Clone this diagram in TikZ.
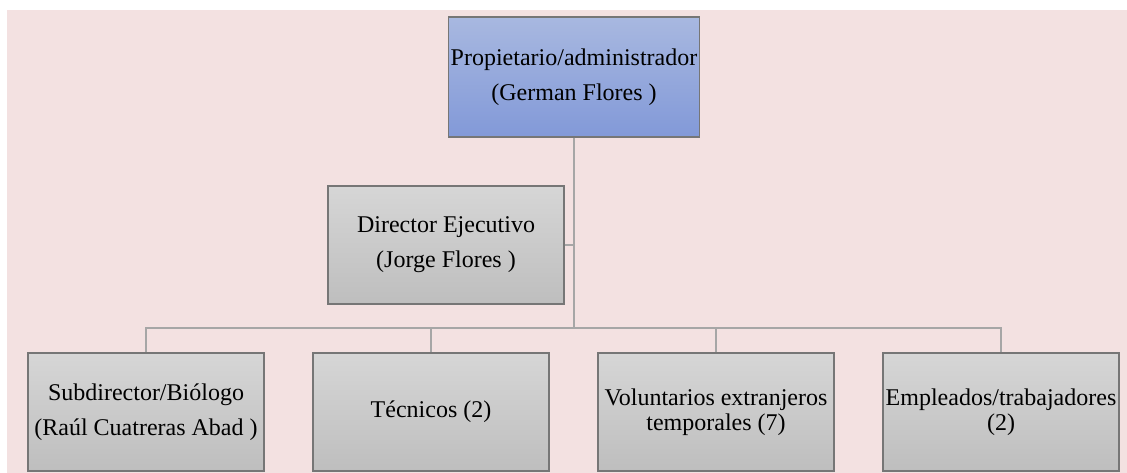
\documentclass[tikz,border=0pt]{standalone}
\usepackage{fontspec}
\setmainfont{Liberation Serif}
\newfontfamily\tnr{Liberation Serif}
\begin{document}
\begin{tikzpicture}[x=1pt,y=-1pt,
  bluebox/.style={draw=boxline, line width=1.3pt, top color=bluetop, bottom color=bluebot,
     minimum width=250pt, minimum height=120pt, inner sep=2pt, align=center,
     font=\tnr\fontsize{24}{35}\selectfont},
  graybox/.style={draw=boxline, line width=1.3pt, top color=graytop, bottom color=graybot,
     minimum width=236pt, minimum height=118pt, inner sep=1pt, align=center,
     font=\tnr\fontsize{24}{35}\selectfont},
  tight/.style={font=\tnr\fontsize{24}{25}\selectfont},
  conn/.style={draw=connline, line width=2.5pt}]
\definecolor{bg}{RGB}{243,225,225}
\definecolor{boxline}{RGB}{118,118,118}
\definecolor{bluetop}{RGB}{168,184,224}
\definecolor{bluebot}{RGB}{130,153,216}
\definecolor{graytop}{RGB}{214,214,214}
\definecolor{graybot}{RGB}{190,190,190}
\definecolor{connline}{RGB}{166,166,166}
\useasboundingbox (0,0) rectangle (1127,473);
\fill[white] (0,0) rectangle (1127,473);
\fill[bg] (7,10) rectangle (1127,473);
\node[bluebox] (top) at (574,77) {Propietario/administrador\\(German Flores )};
\node[graybox] (dir) at (446,245) {Director Ejecutivo\\(Jorge Flores )};
\node[graybox] (b1) at (146,412) {Subdirector/Biólogo\\(Raúl Cuatreras Abad )};
\node[graybox] (b2) at (431,412) {Técnicos (2)};
\node[graybox,tight] (b3) at (716,412) {Voluntarios extranjeros\\temporales (7)};
\node[graybox,tight] (b4) at (1001,412) {Empleados/trabajadores\\(2)};
\coordinate (j) at (574,328);
\draw[conn] (top.south) -- (j);
\draw[conn] (dir.east) -- (dir.east -| j);
\draw[conn] (j) -| (b1.north);
\draw[conn] (j) -| (b2.north);
\draw[conn] (j) -| (b3.north);
\draw[conn] (j) -| (b4.north);
\end{tikzpicture}
\end{document}
